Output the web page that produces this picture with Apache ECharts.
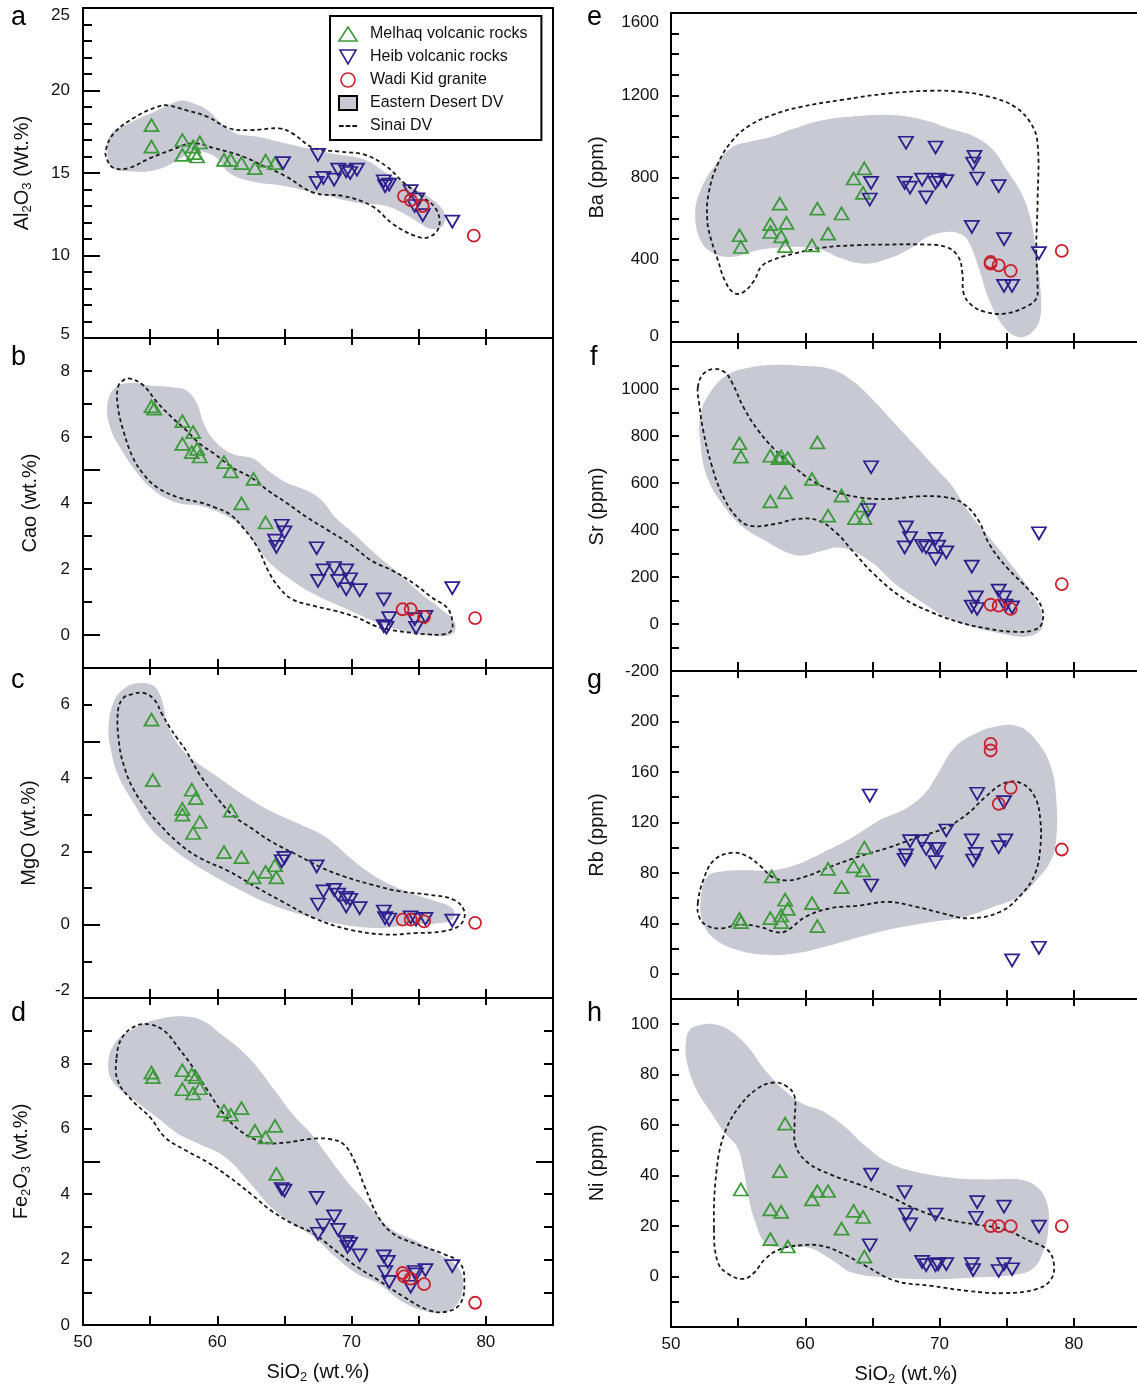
<!DOCTYPE html>
<html>
<head>
<meta charset="utf-8">
<title>Harker diagrams</title>
<script src="https://cdn.jsdelivr.net/npm/echarts@6.0.0/dist/echarts.min.js"></script>
<style>
  html, body { margin: 0; padding: 0; background: #fff; overflow: hidden; }
  /* a bit wider than the window: the right column runs off the page edge */
  #chart { width: 1145px; height: 1390px; }
</style>
</head>
<body>
<div id="chart"></div>
<script>
// ---------- tick labels ----------
const siLabels = [50, 60, 70, 80];
const alLabels = [5, 10, 15, 20, 25];
const caoLabels = [0, 2, 4, 6, 8];
const mgoLabels = [-2, 0, 2, 4, 6];
const feLabels = [0, 2, 4, 6, 8];
const baLabels = [0, 400, 800, 1200, 1600];
const srLabels = [-200, 0, 200, 400, 600, 800, 1000];
const rbLabels = [0, 40, 80, 120, 160, 200];
const niLabels = [0, 20, 40, 60, 80, 100];

// ---------- a: Al2O3 ----------
const melhaqAl = [[55.1,17.9],[55.1,16.6],[57.4,17.0],[57.4,16.1],[58.2,16.6],[58.3,16.2],[58.5,16.0],[58.7,16.85],[60.5,15.8],[61.0,15.8],[61.8,15.6],[62.8,15.3],[63.6,15.75],[64.3,15.6]];
const heibAl = [[64.9,15.6],[67.5,16.1],[67.4,14.4],[67.9,14.7],[68.7,14.6],[69.0,15.2],[69.6,15.1],[69.9,15.0],[70.4,15.2],[72.4,14.5],[72.5,14.2],[72.8,14.3],[74.4,13.9],[74.7,13.0],[74.9,13.4],[75.3,12.45],[77.5,12.05]];
const wadiAl = [[73.9,13.6],[74.4,13.35],[75.3,13.0],[79.1,11.2]];
const edAl = [[51.8,16.4],[52.1,17.4],[53.4,18.0],[55.0,18.6],[56.6,19.2],[57.4,19.4],[58.3,19.2],[59.3,18.8],[60.3,18.0],[61.4,17.4],[63.0,17.2],[65.1,16.8],[67.2,16.4],[69.1,16.1],[71.0,15.8],[72.6,15.0],[74.4,14.2],[76.0,13.4],[76.9,12.6],[76.8,11.8],[76.0,11.6],[75.2,11.9],[74.2,12.4],[72.6,13.0],[70.4,13.2],[67.8,13.7],[65.1,14.2],[62.5,14.5],[60.9,15.0],[60.1,15.8],[59.3,16.2],[58.2,16.3],[57.1,15.8],[55.5,15.2],[53.4,15.1],[52.1,15.4]];
const sinaiAl = [[51.7,16.4],[52.3,17.4],[53.9,18.4],[55.5,19.0],[56.3,19.1],[57.7,18.8],[59.3,18.4],[60.9,17.7],[62.5,17.6],[64.6,17.7],[65.6,17.4],[67.2,16.5],[69.1,16.3],[71.0,16.1],[72.6,15.4],[73.9,14.4],[75.2,13.6],[76.3,12.8],[76.5,11.7],[75.7,11.1],[74.7,11.2],[73.1,11.9],[71.5,13.0],[69.4,13.6],[67.2,13.8],[65.1,14.8],[63.5,15.4],[61.9,16.0],[59.8,16.5],[58.2,16.8],[56.6,16.4],[55.0,15.9],[53.4,15.3],[52.3,15.3],[51.8,15.8]];

// ---------- b: CaO ----------
const melhaqCaO = [[55.1,6.93],[55.3,6.86],[57.4,6.48],[58.2,6.15],[57.4,5.79],[58.1,5.54],[58.5,5.64],[58.7,5.41],[60.5,5.24],[61.0,4.96],[62.7,4.73],[61.8,3.99],[63.6,3.41]];
const heibCaO = [[64.8,3.31],[65.0,3.11],[64.3,2.86],[64.4,2.67],[67.4,2.63],[67.5,1.64],[67.9,1.96],[68.7,2.03],[69.0,1.64],[69.6,1.96],[69.9,1.69],[69.6,1.39],[70.6,1.36],[72.4,1.08],[72.8,0.51],[72.4,0.27],[72.6,0.22],[74.7,0.48],[74.8,0.22],[75.5,0.55],[77.5,1.42]];
const wadiCaO = [[73.8,0.78],[74.4,0.78],[75.4,0.55],[79.2,0.51]];
const edCaO = [[51.8,6.91],[52.3,7.46],[53.4,7.64],[55.0,7.56],[56.6,7.51],[57.7,7.41],[58.5,7.01],[59.0,6.40],[59.8,5.89],[61.1,5.49],[62.7,5.34],[63.8,4.98],[65.1,4.63],[66.7,4.37],[67.8,4.07],[68.8,3.56],[70.2,3.06],[71.8,2.45],[73.6,1.84],[75.2,1.24],[76.5,0.83],[77.6,0.43],[77.7,0.12],[77.1,-0.03],[75.7,0.0],[74.4,0.07],[72.6,0.27],[71.0,0.53],[69.4,0.83],[67.2,1.24],[65.6,1.64],[64.0,2.15],[63.0,2.65],[61.9,3.26],[60.9,3.56],[59.8,3.77],[58.7,3.92],[57.4,3.97],[56.3,4.12],[55.0,4.48],[53.9,4.98],[52.9,5.59],[52.1,6.20]];
const sinaiCaO = [[52.6,7.51],[53.0,7.72],[53.5,7.77],[54.5,7.56],[55.5,7.06],[56.6,6.60],[57.7,6.20],[58.7,5.79],[59.8,5.49],[61.1,5.08],[62.5,4.78],[63.8,4.37],[65.1,4.02],[66.7,3.56],[68.3,3.16],[69.9,2.75],[71.5,2.25],[73.1,1.94],[74.7,1.54],[76.0,1.13],[77.1,0.83],[77.5,0.43],[77.4,0.12],[76.8,0.02],[75.7,0.02],[74.4,0.07],[73.1,0.14],[71.8,0.27],[70.4,0.53],[68.8,0.73],[67.2,0.88],[65.6,1.08],[64.6,1.44],[63.8,1.94],[63.0,2.65],[61.9,3.26],[60.9,3.67],[59.8,3.87],[58.7,4.02],[57.1,4.17],[55.5,4.48],[54.5,4.88],[53.7,5.39],[53.0,6.20],[52.6,6.91]];

// ---------- c: MgO ----------
const melhaqMgO = [[55.1,5.59],[55.2,3.94],[58.1,3.68],[58.4,3.45],[57.4,3.16],[57.4,3.0],[58.7,2.80],[58.2,2.50],[61.0,3.11],[60.5,1.98],[61.8,1.84],[62.7,1.29],[63.6,1.44],[64.3,1.62],[64.4,1.29]];
const heibMgO = [[64.8,1.73],[65.0,1.82],[67.4,1.59],[67.5,0.55],[67.9,0.91],[68.7,0.95],[69.0,0.82],[69.6,0.73],[69.9,0.68],[69.6,0.50],[70.6,0.45],[72.4,0.36],[72.5,0.18],[72.8,0.14],[74.4,0.2],[74.8,0.14],[75.5,0.16],[77.5,0.11]];
const wadiMgO = [[73.8,0.14],[74.4,0.14],[75.4,0.09],[79.2,0.05]];
const edMgO = [[51.9,5.36],[52.3,6.09],[53.1,6.45],[54.2,6.59],[55.3,6.50],[55.9,6.09],[56.3,5.45],[57.1,4.91],[58.2,4.50],[59.8,4.09],[61.9,3.55],[64.0,3.09],[66.2,2.73],[67.8,2.45],[68.8,2.18],[69.9,1.82],[71.2,1.45],[72.6,1.14],[74.4,0.86],[76.3,0.64],[77.5,0.45],[77.6,0.18],[76.8,0.05],[74.4,0.0],[72.0,-0.09],[69.4,0.0],[66.7,0.23],[64.0,0.55],[61.4,1.0],[58.7,1.55],[56.6,2.09],[55.0,2.64],[53.7,3.36],[52.6,4.09],[52.1,4.73]];
const sinaiMgO = [[52.6,5.82],[53.0,6.18],[53.7,6.29],[54.5,6.32],[55.3,6.14],[55.9,5.73],[56.5,5.36],[57.0,5.09],[57.7,4.73],[58.7,4.09],[59.8,3.55],[61.1,3.0],[62.5,2.64],[64.0,2.27],[65.9,1.91],[67.8,1.55],[69.4,1.32],[71.5,1.09],[73.6,0.91],[75.7,0.82],[77.6,0.68],[78.4,0.36],[78.1,0.0],[76.8,-0.18],[74.7,-0.23],[72.6,-0.27],[69.9,-0.14],[67.2,0.18],[64.8,0.64],[63.0,1.0],[60.9,1.45],[58.7,1.82],[57.1,2.23],[55.5,2.82],[54.5,3.27],[53.7,3.73],[53.1,4.27],[52.7,4.91]];

// ---------- d: Fe2O3 ----------
const melhaqFe = [[55.1,7.72],[55.2,7.58],[57.4,7.79],[58.1,7.66],[58.4,7.58],[57.4,7.21],[58.2,7.08],[58.7,7.24],[60.5,6.55],[61.0,6.43],[61.8,6.63],[62.8,5.94],[63.6,5.74],[64.3,6.09],[64.4,4.62]];
const heibFe = [[64.8,4.16],[65.0,4.11],[67.4,3.89],[67.5,2.79],[67.9,3.05],[68.7,3.32],[69.0,2.91],[69.6,2.54],[69.9,2.49],[69.7,2.39],[70.6,2.13],[72.4,2.10],[72.7,1.93],[72.5,1.62],[72.8,1.32],[74.4,1.17],[74.7,1.62],[74.8,1.55],[75.5,1.68],[77.5,1.80]];
const wadiFe = [[73.8,1.59],[73.9,1.49],[74.4,1.42],[75.4,1.25],[79.2,0.68]];
const edFe = [[51.9,7.77],[52.3,8.58],[53.9,9.09],[55.5,9.34],[57.4,9.44],[59.0,9.29],[60.3,8.88],[61.7,8.43],[63.0,7.87],[64.3,7.16],[65.6,6.45],[67.0,5.84],[68.3,5.13],[69.6,4.42],[70.7,3.91],[71.8,3.40],[73.1,2.89],[74.7,2.59],[76.5,2.18],[77.9,1.78],[78.3,1.27],[77.9,0.66],[76.8,0.38],[75.2,0.46],[73.6,0.76],[72.0,1.27],[70.4,1.57],[68.8,2.08],[67.2,2.69],[65.6,3.10],[64.0,3.60],[62.5,4.31],[60.6,5.13],[58.7,5.53],[57.1,5.84],[55.5,6.35],[53.9,6.85],[52.6,7.26]];
const sinaiFe = [[52.5,8.17],[52.9,8.78],[53.9,9.14],[55.0,9.19],[56.1,8.98],[57.1,8.48],[58.2,7.87],[59.3,7.16],[60.3,6.55],[61.7,5.94],[63.5,5.58],[65.1,5.58],[67.0,5.69],[68.3,5.69],[69.4,5.53],[70.2,5.03],[71.0,4.21],[72.0,3.30],[73.1,2.79],[74.7,2.49],[76.8,2.18],[78.1,1.88],[78.4,1.27],[78.1,0.66],[77.1,0.41],[75.7,0.46],[73.9,0.86],[72.0,1.37],[70.4,1.78],[68.8,2.28],[67.2,2.79],[65.6,3.10],[64.0,3.50],[62.5,4.01],[60.9,4.52],[59.3,4.97],[57.7,5.33],[56.1,5.74],[55.0,6.35],[53.7,6.85],[52.6,7.46]];

// ---------- e: Ba ----------
const melhaqBa = [[55.1,519],[55.2,462],[57.4,573],[57.4,535],[58.1,673],[58.2,514],[58.6,579],[58.5,466],[60.5,470],[60.9,649],[61.7,527],[62.7,625],[63.6,795],[64.4,844],[64.3,725]];
const heibBa = [[64.9,774],[64.8,693],[67.5,969],[67.4,774],[67.8,751],[68.7,790],[69.0,703],[69.7,946],[69.7,774],[69.9,790],[70.5,782],[72.6,900],[72.5,868],[72.8,795],[74.4,758],[72.4,560],[74.8,500],[74.8,273],[75.4,273],[77.4,432]];
const wadiBa = [[73.8,389],[73.8,381],[74.4,373],[75.3,346],[79.1,443]];
const edBa = [[51.8,625],[52.2,738],[53.2,852],[54.6,949],[55.9,974],[57.5,998],[59.2,1039],[61.3,1079],[64.0,1099],[66.7,1103],[68.9,1079],[70.7,1039],[72.6,998],[74.0,933],[75.0,836],[76.1,722],[76.8,592],[77.2,430],[77.5,268],[77.5,122],[76.9,49],[75.9,24],[74.8,73],[73.7,203],[72.9,365],[72.1,495],[71.5,527],[70.5,535],[69.1,511],[67.8,454],[66.2,406],[64.5,381],[62.7,406],[61.3,446],[59.7,462],[58.1,459],[56.5,446],[54.6,414],[53.2,430],[52.2,495]];
const sinaiBa = [[52.7,592],[52.8,722],[53.5,868],[54.6,982],[55.9,1055],[57.5,1103],[59.7,1144],[62.7,1177],[66.2,1209],[69.4,1222],[71.5,1217],[73.7,1193],[75.6,1144],[76.8,1063],[77.3,966],[77.3,690],[77.2,446],[77.3,268],[77.2,211],[76.4,170],[74.8,138],[73.4,146],[72.4,178],[71.8,235],[71.7,333],[71.4,414],[70.5,462],[68.9,474],[66.2,474],[64.0,471],[61.3,459],[59.2,430],[57.5,397],[56.7,365],[56.2,300],[55.4,243],[54.7,238],[54.0,300],[53.5,397],[53.0,495]];

// ---------- f: Sr ----------
const melhaqSr = [[55.1,769],[55.2,712],[57.4,716],[58.0,706],[58.2,712],[58.7,706],[57.4,522],[58.5,560],[60.9,773],[60.5,617],[62.7,546],[61.7,461],[63.7,450],[64.4,450],[64.3,504]];
const heibSr = [[64.7,485],[64.9,667],[67.5,411],[67.8,366],[67.4,326],[68.7,333],[69.0,326],[69.7,362],[69.9,329],[69.7,277],[70.5,305],[72.4,244],[72.7,113],[72.4,74],[72.8,64],[74.4,142],[74.8,113],[74.9,78],[75.4,71],[77.4,386]];
const wadiSr = [[73.8,82],[74.4,78],[75.3,64],[79.1,170]];
const edSr = [[52.2,894],[53.0,993],[54.3,1064],[55.9,1092],[57.5,1102],[59.7,1099],[61.9,1085],[63.5,1035],[65.1,950],[66.7,851],[68.3,752],[69.9,652],[71.0,582],[72.1,482],[73.7,369],[75.3,255],[76.9,128],[77.7,28],[77.5,-28],[76.4,-54],[74.8,-43],[72.6,-14],[70.5,28],[68.9,85],[66.7,170],[65.1,255],[63.5,312],[62.4,326],[61.3,312],[59.7,291],[58.6,305],[57.0,355],[55.4,411],[54.0,496],[52.7,624],[52.2,766]];
const sinaiSr = [[52.0,1007],[52.4,1064],[53.2,1085],[54.0,1071],[54.6,1021],[55.4,922],[56.5,823],[57.8,738],[59.2,667],[60.5,610],[62.1,567],[64.0,539],[66.2,532],[68.3,543],[70.5,539],[71.8,511],[72.9,440],[73.7,340],[75.0,241],[76.7,142],[77.6,71],[77.6,0],[76.9,-28],[75.6,-33],[73.7,-21],[71.5,7],[69.4,50],[67.2,113],[65.1,213],[63.5,312],[62.4,383],[61.0,440],[59.4,447],[57.8,426],[55.9,418],[54.9,454],[53.8,553],[53.0,681],[52.4,823],[52.1,936]];

// ---------- g: Rb ----------
const melhaqRb = [[55.1,43.6],[55.2,41.0],[57.5,77.1],[57.4,44.1],[58.2,46.2],[58.2,41.0],[58.5,58.7],[58.7,51.5],[60.5,56.0],[60.9,37.8],[61.7,83.2],[62.7,68.7],[63.6,85.1],[64.3,81.9],[64.4,99.9]];
const heibRb = [[64.8,141.3],[64.9,70.0],[67.4,90.4],[67.5,93.8],[67.8,105.2],[68.7,105.2],[69.0,99.1],[69.7,99.1],[69.7,88.5],[69.9,99.1],[70.5,113.6],[72.4,105.7],[72.5,89.8],[72.7,95.1],[72.8,142.7],[74.4,100.4],[74.8,136.1],[74.9,105.7],[75.4,10.6],[77.4,20.6]];
const wadiRb = [[73.8,182.3],[73.8,177.0],[74.4,134.7],[75.3,147.4],[79.1,98.5]];
const edRb = [[52.2,58],[52.7,77],[53.8,81],[55.4,82],[57.5,82],[59.2,86],[61.3,96],[63.5,108],[65.6,122],[67.5,131],[68.9,143],[69.9,159],[71.0,178],[72.4,189],[74.2,196],[75.9,196],[77.2,185],[78.3,164],[78.7,137],[78.7,108],[78.3,90],[77.2,74],[75.9,61],[74.0,53],[71.8,45],[69.4,41],[66.7,36],[64.0,29],[61.3,21],[59.2,16],[57.0,15],[54.9,19],[53.2,28],[52.4,40]];
const sinaiRb = [[52.0,56],[52.4,74],[53.2,90],[54.6,96],[55.7,93],[56.7,85],[57.5,77],[58.6,74],[60.0,77],[61.9,85],[64.0,93],[66.2,100],[68.3,108],[70.5,116],[72.1,127],[73.4,140],[74.8,151],[76.1,151],[77.1,140],[77.5,122],[77.5,100],[77.1,79],[76.1,63],[74.5,49],[72.1,44],[70.2,48],[68.3,53],[66.2,57],[64.0,54],[61.9,52],[60.0,45],[58.6,34],[57.8,33],[56.7,37],[55.1,39],[53.8,36],[52.7,38],[52.1,45]];

// ---------- h: Ni ----------
const melhaqNi = [[55.2,34.5],[57.4,26.6],[58.2,25.6],[58.1,41.8],[58.5,60.6],[57.4,14.8],[58.7,11.9],[60.5,30.6],[60.9,33.9],[61.7,33.9],[62.7,19.0],[63.6,26.0],[64.3,23.6],[64.4,7.9]];
const heibNi = [[64.9,40.4],[64.8,12.4],[67.4,33.5],[67.5,24.6],[67.8,20.7],[68.7,5.8],[69.0,4.5],[69.7,24.6],[69.7,4.5],[69.9,4.9],[70.5,4.9],[72.4,4.9],[72.5,2.6],[72.8,29.5],[72.7,23.3],[74.4,2.2],[74.8,27.7],[74.8,4.9],[75.4,2.9],[77.4,19.8]];
const wadiNi = [[73.8,20],[74.4,20],[75.3,20],[79.1,20]];
const edNi = [[51.1,92.5],[51.4,97.8],[52.2,99.7],[53.2,100],[54.3,97.8],[55.7,91.2],[57.0,81.9],[58.4,74.0],[59.7,68.8],[61.3,65.5],[62.9,59.6],[64.5,51.6],[66.2,45.1],[68.3,41.4],[71.0,39.1],[73.7,38.5],[75.9,38.5],[77.2,35.8],[78.0,29.2],[78.1,18.7],[77.7,9.5],[76.9,2.9],[75.3,0.5],[72.6,-0.4],[69.4,-1.1],[66.2,-0.4],[63.5,1.6],[61.9,6.9],[60.2,11.5],[58.1,11.5],[57.0,13.4],[56.3,21.3],[55.8,30.6],[55.4,42.4],[54.9,51.6],[54.0,56.9],[53.0,64.8],[51.9,74.0],[51.2,84.6]];
const sinaiNi = [[53.2,18.7],[53.4,42.4],[54.0,56.9],[55.1,67.5],[56.5,74.7],[57.7,76.9],[58.6,75.4],[59.2,71.4],[59.2,60.9],[59.3,51.6],[60.2,45.1],[61.9,40.4],[64.0,36.5],[66.2,31.9],[68.3,26.6],[70.5,22.7],[72.6,20.7],[74.8,18.7],[76.7,14.1],[78.0,10.8],[78.5,5.5],[78.3,-1.1],[77.2,-5.0],[74.8,-6.6],[72.1,-5.7],[69.4,-3.7],[66.7,-1.7],[64.5,4.2],[62.9,8.8],[61.3,12.1],[59.7,12.4],[58.1,10.8],[57.0,6.9],[56.2,1.6],[55.4,-0.9],[54.3,0.9],[53.5,5.5]];

// ---------- layout of the eight panels ----------
const FONT = '"Liberation Sans", Arial, Helvetica, sans-serif';
const GREEN = '#3c9a3a';
const NAVY = '#2f1f8c';
const RED = '#c8202f';
const FIELD = '#c8c9d3';
const DOWN_TRI = 'path://M0,0L12,0L6,10.4Z';

const panels = [
  { letter: 'a', col: 0, top: 8, height: 330, min: 5, max: 25, step: 1, labels: alLabels,
    name: '{b|Al}{s|2}{b|O}{s|3}{b| (Wt.%)}', nameGap: 50, nudge: [[25, 7], [5, -4]],
    melhaq: melhaqAl, heib: heibAl, wadi: wadiAl, ed: edAl, sinai: sinaiAl },
  { letter: 'b', col: 0, top: 338, height: 330, min: -1, max: 9, step: 1, labels: caoLabels,
    name: '{b|Cao (wt.%)}', nameGap: 42, topTicks: true,
    melhaq: melhaqCaO, heib: heibCaO, wadi: wadiCaO, ed: edCaO, sinai: sinaiCaO },
  { letter: 'c', col: 0, top: 668, height: 330, min: -2, max: 7, step: 1, labels: mgoLabels,
    name: '{b|MgO (wt.%)}', nameGap: 43, topTicks: true, nudge: [[-2, -8]],
    melhaq: melhaqMgO, heib: heibMgO, wadi: wadiMgO, ed: edMgO, sinai: sinaiMgO },
  { letter: 'd', col: 0, top: 998, height: 327, min: 0, max: 10, step: 1, labels: feLabels,
    name: '{b|Fe}{s|2}{b|O}{s|3}{b| (wt.%)}', nameGap: 51, topTicks: true, rightTicks: true, xLabels: true,
    melhaq: melhaqFe, heib: heibFe, wadi: wadiFe, ed: edFe, sinai: sinaiFe },
  { letter: 'e', col: 1, top: 13, height: 329, min: 0, max: 1600, step: 100, labels: baLabels,
    name: '{b|Ba (ppm)}', nameGap: 63, nudge: [[1600, 9], [0, -6]],
    melhaq: melhaqBa, heib: heibBa, wadi: wadiBa, ed: edBa, sinai: sinaiBa },
  { letter: 'f', col: 1, top: 342, height: 329, min: -200, max: 1200, step: 100, labels: srLabels,
    name: '{b|Sr (ppm)}', nameGap: 63, topTicks: true,
    melhaq: melhaqSr, heib: heibSr, wadi: wadiSr, ed: edSr, sinai: sinaiSr },
  { letter: 'g', col: 1, top: 671, height: 328, min: -20, max: 240, step: 20, labels: rbLabels,
    name: '{b|Rb (ppm)}', nameGap: 63, topTicks: true,
    melhaq: melhaqRb, heib: heibRb, wadi: wadiRb, ed: edRb, sinai: sinaiRb },
  { letter: 'h', col: 1, top: 999, height: 328, min: -20, max: 110, step: 10, labels: niLabels,
    name: '{b|Ni (ppm)}', nameGap: 63, topTicks: true, xLabels: true,
    melhaq: melhaqNi, heib: heibNi, wadi: wadiNi, ed: edNi, sinai: sinaiNi }
];

const letterPos = {
  a: [11, 27], b: [11, 367], c: [11, 690], d: [11, 1023],
  e: [587, 27], f: [590, 367], g: [587, 690], h: [587, 1023]
};

const black = { color: '#000', width: 2 };
const nameStyle = {
  fontSize: 20, fontFamily: FONT, color: '#111',
  rich: {
    b: { fontSize: 20, fontFamily: FONT, lineHeight: 22, verticalAlign: 'middle' },
    s: { fontSize: 13, fontFamily: FONT, lineHeight: 13, padding: [10, 0, 0, 0], verticalAlign: 'middle' }
  }
};

function labelAxis(p, gi, position, withLabels) {
  const nudge = p.nudge || [];
  const rich = {};
  nudge.forEach(([v, px], k) => {
    rich['n' + k] = { padding: px > 0 ? [2 * px, 0, 0, 0] : [0, 0, -2 * px, 0] };
  });
  const ax = {
    type: 'value', gridIndex: gi, position: position,
    min: p.min, max: p.max, interval: p.step,
    axisLine: { show: true, onZero: false, lineStyle: black },
    axisTick: { show: true, inside: true, length: p.col === 0 ? 9 : 8, lineStyle: black },
    splitLine: { show: false },
    axisLabel: {
      show: withLabels, margin: p.col === 0 ? 13 : 12,
      fontSize: 17, fontFamily: FONT, color: '#111', rich: rich,
      formatter: function (v) {
        if (p.labels.indexOf(v) < 0) return '';
        const k = nudge.findIndex(n => n[0] === v);
        return k >= 0 ? '{n' + k + '|' + v + '}' : String(v);
      }
    }
  };
  if (withLabels) {
    ax.name = p.name;
    ax.nameLocation = 'middle';
    ax.nameRotate = 90;
    ax.nameGap = p.nameGap;
    ax.nameTextStyle = nameStyle;
  }
  return ax;
}

// long ticks at every multiple of 5 (left column only)
function longTickAxis(p, gi, position) {
  return {
    type: 'value', gridIndex: gi, position: position,
    min: p.min, max: p.max, minInterval: 5, maxInterval: 5, splitNumber: 2,
    axisLine: { show: false, onZero: false },
    axisTick: { show: true, inside: true, length: 17, lineStyle: black },
    axisLabel: { show: false },
    splitLine: { show: false }
  };
}

function xAxisFor(p, gi, position) {
  const ax = {
    type: 'value', gridIndex: gi, position: position,
    min: 50, max: 85, interval: 5,
    axisLine: { show: true, onZero: false, lineStyle: black },
    axisTick: { show: true, inside: true, length: position === 'top' ? 7 : 9, lineStyle: black },
    splitLine: { show: false },
    axisLabel: {
      show: position === 'bottom' && !!p.xLabels, margin: 9,
      fontSize: 17, fontFamily: FONT, color: '#111',
      formatter: v => (siLabels.indexOf(v) >= 0 ? String(v) : '')
    }
  };
  if (position === 'bottom' && p.xLabels) {
    ax.name = '{b|SiO}{s|2}{b| (wt.%)}';
    ax.nameLocation = 'middle';
    ax.nameGap = 36;
    ax.nameTextStyle = nameStyle;
  }
  return ax;
}

// closed smooth field drawn from its outline points
function fieldSeries(name, pts, xi, yi, style, z) {
  return {
    type: 'custom', name: name, xAxisIndex: xi, yAxisIndex: yi,
    data: pts, encode: { x: 0, y: 1 }, silent: true, z: z,
    renderItem: function (params, api) {
      if (params.dataIndex !== 0) return null;
      return {
        type: 'polygon',
        shape: { points: pts.map(pt => api.coord(pt)), smooth: 0.4 },
        style: style
      };
    }
  };
}

function scatterSeries(name, data, xi, yi, symbol, size, color) {
  return {
    type: 'scatter', name: name, xAxisIndex: xi, yAxisIndex: yi,
    data: data, symbol: symbol, symbolSize: size, silent: true, z: 3,
    itemStyle: { color: 'rgba(0,0,0,0)', borderColor: color, borderWidth: 1.8, opacity: 1 }
  };
}

const grid = [], xAxis = [], yAxis = [], series = [], graphic = [];

panels.forEach((p, gi) => {
  grid.push({
    left: p.col === 0 ? 83 : 671, top: p.top, width: 470, height: p.height,
    show: true, borderColor: '#000', borderWidth: 2, backgroundColor: 'transparent'
  });

  const xi = xAxis.length;
  xAxis.push(xAxisFor(p, gi, 'bottom'));
  if (p.topTicks) xAxis.push(xAxisFor(p, gi, 'top'));

  const yi = yAxis.length;
  yAxis.push(labelAxis(p, gi, 'left', true));
  if (p.col === 0) yAxis.push(longTickAxis(p, gi, 'left'));
  if (p.rightTicks) {
    yAxis.push(labelAxis(p, gi, 'right', false));
    yAxis.push(longTickAxis(p, gi, 'right'));
  }

  series.push(fieldSeries('Eastern Desert DV', p.ed, xi, yi, { fill: FIELD, stroke: null }, 1));
  series.push(fieldSeries('Sinai DV', p.sinai, xi, yi,
    { fill: 'none', stroke: '#1a1a1a', lineWidth: 1.8, lineDash: [4, 3] }, 2));
  series.push(scatterSeries('Melhaq volcanic rocks', p.melhaq, xi, yi, 'triangle', [14, 12], GREEN));
  series.push(scatterSeries('Heib volcanic rocks', p.heib, xi, yi, DOWN_TRI, [14, 12], NAVY));
  series.push(scatterSeries('Wadi Kid granite', p.wadi, xi, yi, 'circle', 12, RED));

  const lp = letterPos[p.letter];
  graphic.push({
    type: 'text', z: 10,
    style: {
      x: lp[0], y: lp[1] - 9.5, text: p.letter, fontSize: 27, fontFamily: FONT, fill: '#000',
      textAlign: 'left', align: 'left', textVerticalAlign: 'middle', verticalAlign: 'middle'
    }
  });
});

const chart = echarts.init(document.getElementById('chart'), null, { renderer: 'canvas' });
chart.setOption({
  animation: false,
  backgroundColor: '#fff',
  grid: grid,
  xAxis: xAxis,
  yAxis: yAxis,
  series: series,
  graphic: graphic,
  legend: {
    left: 330, top: 16, orient: 'vertical', selectedMode: false, z: 10,
    backgroundColor: '#fff', borderColor: '#000', borderWidth: 2,
    padding: [10, 14, 6, 8], itemGap: 7, itemWidth: 18, itemHeight: 14,
    textStyle: { fontSize: 16, fontFamily: FONT, color: '#111', padding: [0, 0, 0, 8] },
    data: [
      { name: 'Melhaq volcanic rocks', icon: 'triangle',
        itemStyle: { color: 'rgba(0,0,0,0)', borderColor: GREEN, borderWidth: 1.6 } },
      { name: 'Heib volcanic rocks', icon: DOWN_TRI,
        itemStyle: { color: 'rgba(0,0,0,0)', borderColor: NAVY, borderWidth: 1.6 } },
      { name: 'Wadi Kid granite', icon: 'circle',
        itemStyle: { color: 'rgba(0,0,0,0)', borderColor: RED, borderWidth: 1.6 } },
      { name: 'Eastern Desert DV', icon: 'rect',
        itemStyle: { color: FIELD, borderColor: '#000', borderWidth: 2 } },
      { name: 'Sinai DV', icon: 'path://M0,0h5v2h-5z M7,0h5v2h-5z M14,0h5v2h-5z',
        itemStyle: { color: '#1a1a1a', borderWidth: 0 } }
    ]
  }
});
</script>
</body>
</html>
